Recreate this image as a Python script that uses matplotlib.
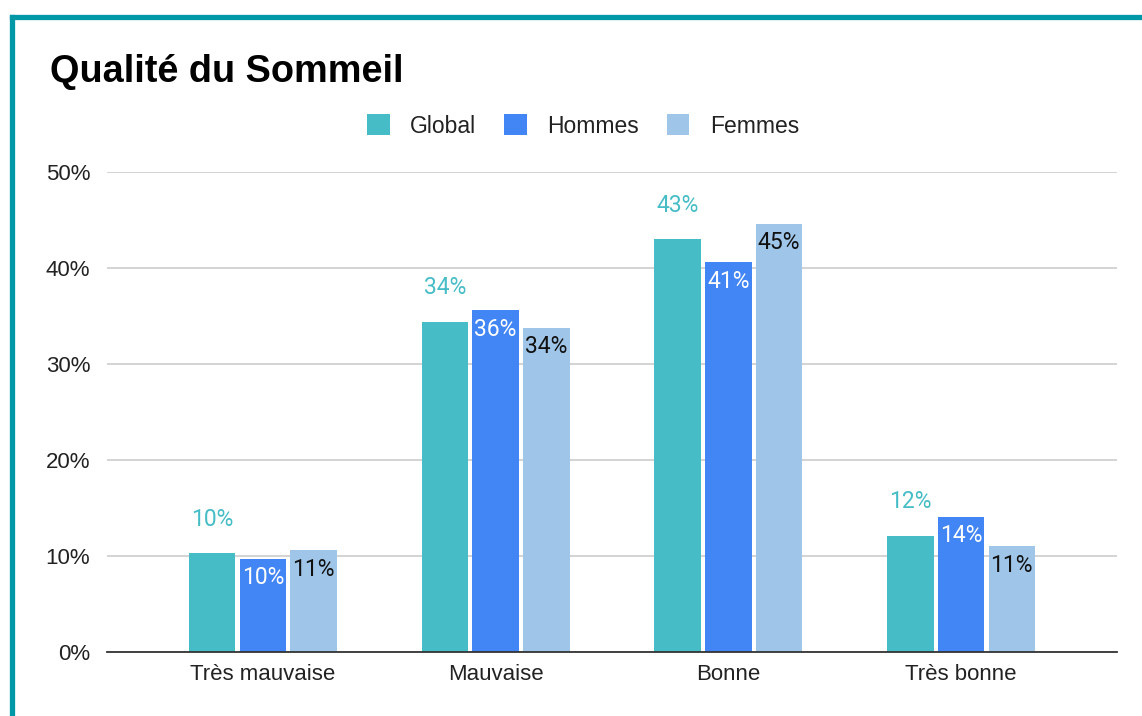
import matplotlib.pyplot as plt
from matplotlib.lines import Line2D
import numpy as np

plt.rcParams['font.family'] = ['Liberation Sans', 'DejaVu Sans']

categories = ['Très mauvaise', 'Mauvaise', 'Bonne', 'Très bonne']
series_names = ['Global', 'Hommes', 'Femmes']
global_vals = [10.3, 34.4, 43.0, 12.1]
hommes_vals = [9.7, 35.6, 40.6, 14.1]
femmes_vals = [10.6, 33.8, 44.6, 11.0]
colors = ['#46bdc6', '#4285f4', '#9fc5e8']
label_colors = ['#46bdc6', '#ffffff', '#111111']

fig = plt.figure(figsize=(11.42, 7.16), dpi=100)
ax = fig.add_axes([107 / 1142, 1 - 652 / 716, 1010 / 1142, 480 / 716])

x = np.arange(len(categories))
width = 0.2
step = 0.218
for i, (vals, name) in enumerate(zip([global_vals, hommes_vals, femmes_vals], series_names)):
    bars = ax.bar(x + (i - 1) * step, vals, width, color=colors[i], label=name, zorder=3)
    for b, v in zip(bars, vals):
        cx = b.get_x() + b.get_width() / 2
        # global above the bar, the others inside near the top
        dy = 24.5 if i == 0 else -13.7
        ax.annotate(f'{round(v)}%', (cx, v), xytext=(0, dy), textcoords='offset points',
                    ha='center', va='center', fontsize=16.5, color=label_colors[i],
                    family=['Roboto', 'DejaVu Sans'], zorder=4)

ax.set_xlim(x[0] - 0.67, x[-1] + 0.67)
ax.set_ylim(0, 50)
ax.set_yticks([0, 10, 20, 30, 40, 50])
ax.set_yticklabels([f'{t}%' for t in [0, 10, 20, 30, 40, 50]])
ax.set_xticks(x)
ax.set_xticklabels(categories)
ax.tick_params(axis='both', length=0, labelsize=16, colors='#222222')
ax.tick_params(axis='y', pad=12)
ax.tick_params(axis='x', pad=9)
ax.grid(axis='y', color='#cccccc', linewidth=1.2, zorder=0)
for s in ['top', 'right', 'left']:
    ax.spines[s].set_visible(False)
ax.spines['bottom'].set_color('#333333')
ax.spines['bottom'].set_linewidth(1.3)
ax.spines['bottom'].set_zorder(5)

fig.text(50 / 1142, 1 - 72 / 716, 'Qualité du Sommeil', fontsize=27.3, fontweight='bold',
         va='center', ha='left', color='#000000')

fig.legend(loc='center', bbox_to_anchor=(583 / 1142, 1 - 126 / 716), ncol=3, frameon=False,
           fontsize=16.5, handlelength=1.0, handleheight=1.0, columnspacing=1.2, handletextpad=0.9,
           labelcolor='#222222')

# teal frame around the card
frame_col = '#0097a7'
fig.add_artist(Line2D([11.5 / 1142, 11.5 / 1142], [0, 1 - 16.5 / 716], color=frame_col,
                      linewidth=3.8, transform=fig.transFigure, solid_capstyle='projecting'))
fig.add_artist(Line2D([11.5 / 1142, 1.0], [1 - 16.5 / 716, 1 - 16.5 / 716], color=frame_col,
                      linewidth=3.8, transform=fig.transFigure, solid_capstyle='projecting'))

fig.savefig('out.png', dpi=100)
